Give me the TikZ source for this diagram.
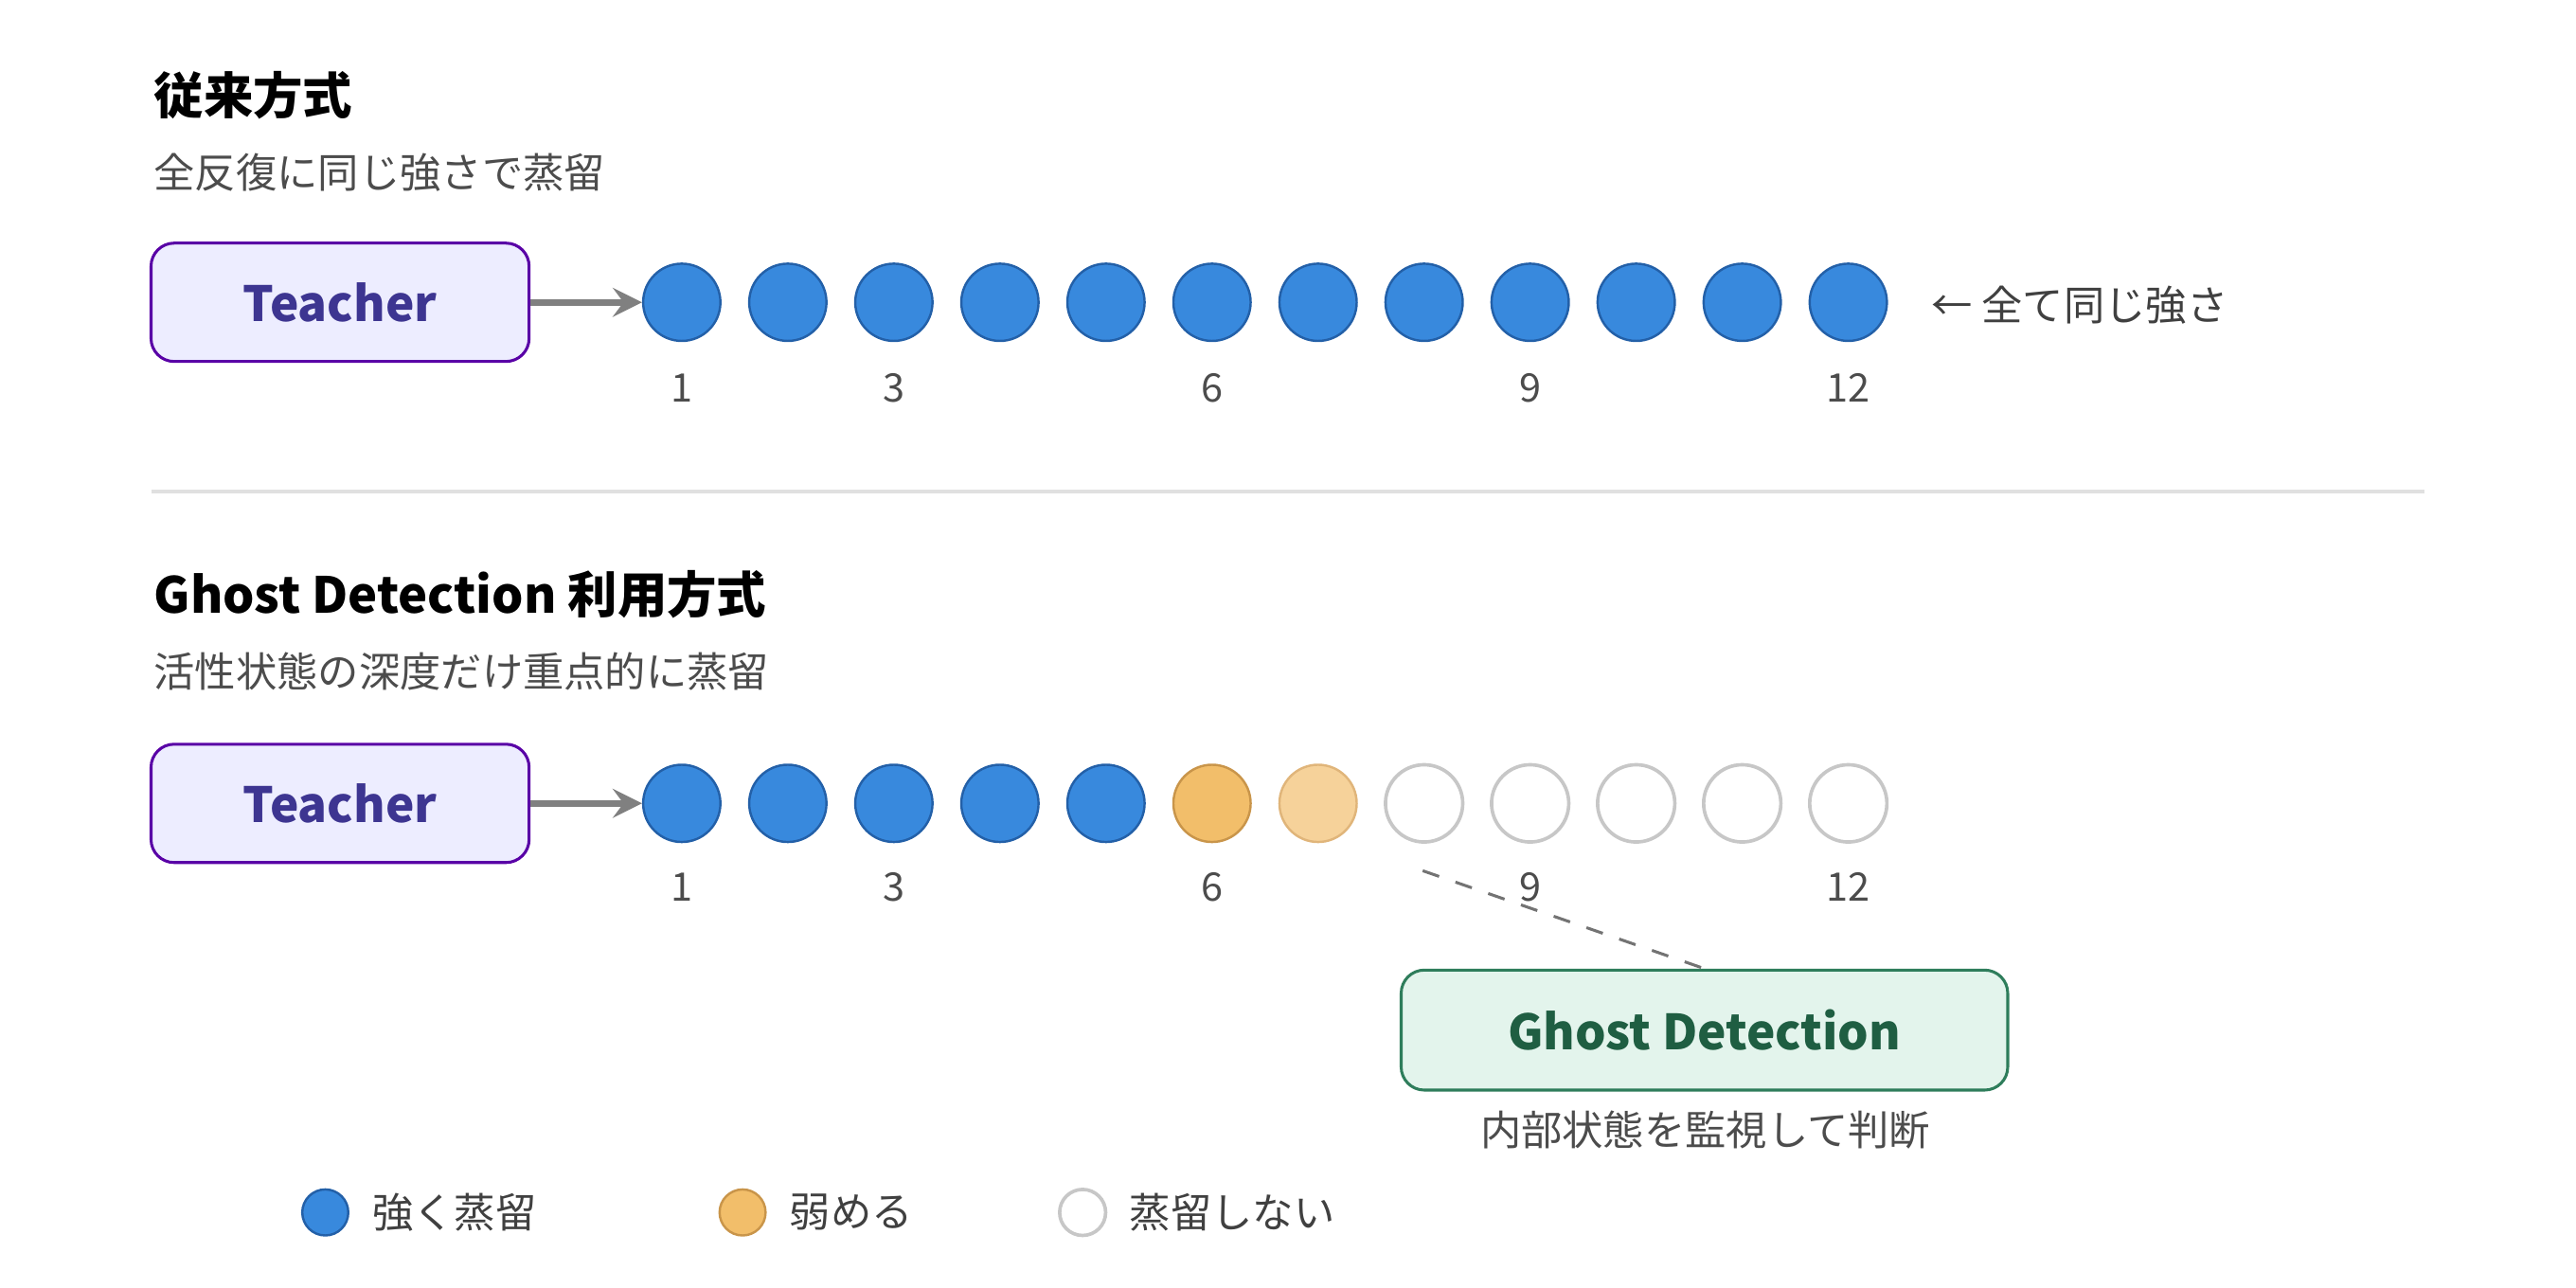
\documentclass[tikz,border=0pt]{standalone}
\usepackage{fontspec}
\setmainfont{Noto Sans CJK JP}
\begin{document}
\begin{tikzpicture}[x=0.01cm,y=-0.01cm,
  title/.style={anchor=west,font=\fontsize{8.6}{10}\selectfont\bfseries,text=black,inner sep=0},
  sub/.style={anchor=west,font=\fontsize{7.1}{9}\selectfont,text=black!70,inner sep=0},
  teacher/.style={draw=violet!70!blue,fill=blue!7,rounded corners=4pt,minimum width=2.3cm,minimum height=0.72cm,font=\fontsize{8.4}{10}\selectfont\bfseries,text={rgb,255:red,61;green,53;blue,145},line width=0.5pt},
  blue/.style={circle,minimum size=0.47cm,inner sep=0,fill={rgb,255:red,56;green,137;blue,221},draw={rgb,255:red,35;green,96;blue,168},line width=0.4pt},
  orng/.style={circle,minimum size=0.47cm,inner sep=0,fill={rgb,255:red,242;green,190;blue,106},draw={rgb,255:red,201;green,149;blue,74},line width=0.4pt},
  lorng/.style={circle,minimum size=0.47cm,inner sep=0,fill={rgb,255:red,246;green,210;blue,154},draw={rgb,255:red,224;green,181;blue,122},line width=0.4pt},
  empty/.style={circle,minimum size=0.47cm,inner sep=0,fill=white,draw=black!22,line width=0.6pt},
  num/.style={font=\fontsize{6.8}{8}\selectfont,text=black!70},
  arr/.style={->,draw=black!50,line width=1.2pt,>=stealth},
  leg/.style={anchor=west,font=\fontsize{7.1}{9}\selectfont,text=black!75,inner sep=0}]
\useasboundingbox (0,0) rectangle (1568,784);
% top
\node[title] (t1) at (93,58) {従来方式};
\node[sub] (s1) at (93,105) {全反復に同じ強さで蒸留};
\node[teacher] (T1) at (207,184) {Teacher};
\foreach \i in {1,...,12} \node[blue] (a\i) at ({415+64.55*(\i-1)},184) {};
\foreach \i in {1,3,6,9,12} \node[num] (na\i) at ({415+64.55*(\i-1)},236) {\i};
\draw[arr] (T1) -- (a1);
\node[leg] (note) at (1175,186) {← 全て同じ強さ};
\draw[black!12,line width=0.6pt] (92,299) coordinate (l1) -- (1476,299) coordinate (l2);
% bottom
\node[title] (t2) at (93,362) {Ghost Detection 利用方式};
\node[sub] (s2) at (93,409) {活性状態の深度だけ重点的に蒸留};
\node[teacher] (T2) at (207,489) {Teacher};
\foreach \i in {1,...,5} \node[blue] (b\i) at ({415+64.55*(\i-1)},489) {};
\node[orng] (b6) at ({415+64.55*5},489) {};
\node[lorng] (b7) at ({415+64.55*6},489) {};
\foreach \i in {8,...,12} \node[empty] (b\i) at ({415+64.55*(\i-1)},489) {};
\foreach \i in {1,3,6,9,12} \node[num] (nb\i) at ({415+64.55*(\i-1)},540) {\i};
\draw[arr] (T2) -- (b1);
\node[draw={rgb,255:red,46;green,125;blue,91},fill={rgb,255:red,227;green,244;blue,236},rounded corners=4pt,minimum width=3.69cm,minimum height=0.73cm,font=\fontsize{8.4}{10}\selectfont\bfseries,text={rgb,255:red,31;green,94;blue,66},line width=0.5pt] (G) at (1037.5,627) {Ghost Detection};
\coordinate (d0) at (866,530);
\draw[dashed,black!55,line width=0.5pt] (d0) -- (G.north);
\node[num,font=\fontsize{7.1}{9}\selectfont] (gs) at (1038,688) {内部状態を監視して判断};
% legend
\node[blue,minimum size=0.28cm] (l1c) at (198,738) {};
\node[leg] (l1t) at (226,738) {強く蒸留};
\node[orng,minimum size=0.28cm] (l2c) at (452,738) {};
\node[leg] (l2t) at (480,738) {弱める};
\node[empty,minimum size=0.28cm] (l3c) at (659,738) {};
\node[leg] (l3t) at (687,738) {蒸留しない};
\end{tikzpicture}
\end{document}
